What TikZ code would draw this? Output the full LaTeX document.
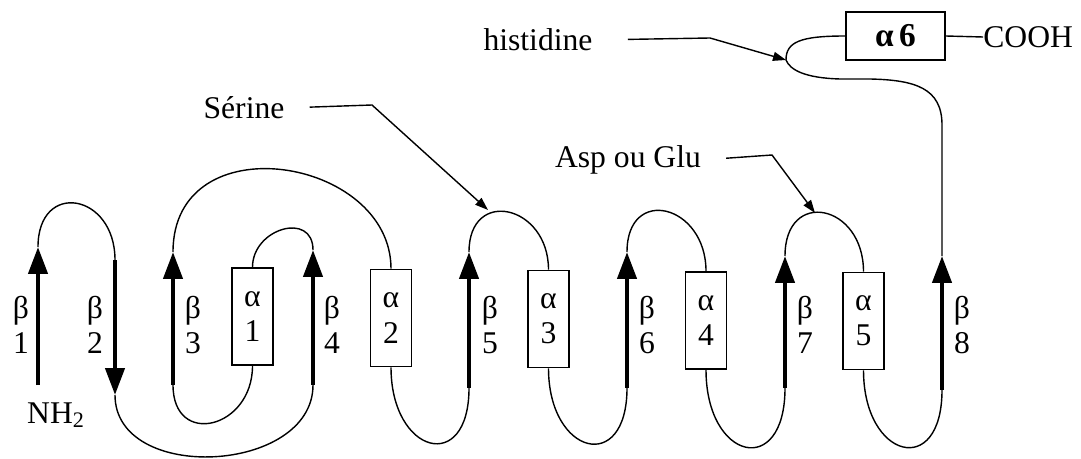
\documentclass[tikz,border=0pt]{standalone}
\usepackage{fontspec}
\setmainfont{Liberation Serif}
\usetikzlibrary{arrows.meta}

\begin{document}
\begin{tikzpicture}[x=0.02cm, y=-0.02cm, font=\fontsize{18}{20}\selectfont,
    strand/.style={line width=2.5pt, -{Triangle[length=0.54cm, width=0.38cm]}},
    helix/.style={draw, line width=0.9pt, minimum width=0.82cm, minimum height=1.94cm, inner sep=0pt, align=center},
    chain/.style={line width=0.8pt},
    pointer/.style={line width=0.8pt, -{Triangle[length=0.26cm, width=0.18cm]}},
    tag/.style={inner sep=0pt, align=center}]
    \useasboundingbox (0,0) rectangle (1081,459);

    %% Strands
    % Ends
    \coordinate (b1s) at (38, 385);  \coordinate (b1e) at (38, 247);
    \coordinate (b2s) at (115, 260); \coordinate (b2e) at (115, 395);
    \coordinate (b3s) at (173, 385); \coordinate (b3e) at (173, 252);
    \coordinate (b4s) at (313, 385); \coordinate (b4e) at (313, 250);
    \coordinate (b5s) at (469, 388); \coordinate (b5e) at (469, 252);
    \coordinate (b6s) at (627, 388); \coordinate (b6e) at (627, 252);
    \coordinate (b7s) at (785, 388); \coordinate (b7e) at (785, 256);
    \coordinate (b8s) at (942, 390); \coordinate (b8e) at (942, 256);

    % Arrows
    \draw[strand] (b1s) -- (b1e);
    \draw[strand] (b2s) -- (b2e);
    \draw[strand] (b3s) -- (b3e);
    \draw[strand] (b4s) -- (b4e);
    \draw[strand] (b5s) -- (b5e);
    \draw[strand] (b6s) -- (b6e);
    \draw[strand] (b7s) -- (b7e);
    \draw[strand] (b8s) -- (b8e);

    % Labels
    \node[tag] (lb1) at (21, 325) {β\\1};
    \node[tag] (lb2) at (95, 325) {β\\2};
    \node[tag] (lb3) at (193, 325) {β\\3};
    \node[tag] (lb4) at (332, 325) {β\\4};
    \node[tag] (lb5) at (490, 325) {β\\5};
    \node[tag] (lb6) at (647, 325) {β\\6};
    \node[tag] (lb7) at (805, 325) {β\\7};
    \node[tag] (lb8) at (962, 325) {β\\8};

    %% Helices
    \node[helix] (a1) at (252.5, 316.5) {α\\1};
    \node[helix] (a2) at (391, 318) {α\\2};
    \node[helix] (a3) at (548.5, 319) {α\\3};
    \node[helix] (a4) at (706, 320.5) {α\\4};
    \node[helix] (a5) at (863.5, 321) {α\\5};
    \node[helix, minimum width=1.98cm, minimum height=0.96cm, font=\fontsize{19}{20}\selectfont\bfseries] (a6) at (895.5, 36) {α\,6};

    %% Loops
    \draw[chain] (b1e) .. controls +(0, -67) and +(0, -67) .. (b2s);
    \draw[chain] (b2e) .. controls +(0, 89) and +(0, 89) .. (b4s);
    \draw[chain] (b3s) .. controls +(0, 63) and +(0, 63) .. (a1.south);
    \draw[chain] (a1.north) .. controls +(0, -39) and +(0, -39) .. (b4e);
    \draw[chain] (b3e) .. controls +(0, -130) and +(0, -112) .. (a2.north);
    \draw[chain] (a2.south) .. controls +(0, 87) and +(0, 87) .. (b5s);
    \draw[chain] (b5e) .. controls +(0, -65) and +(0, -65) .. (a3.north);
    \draw[chain] (a3.south) .. controls +(0, 87) and +(0, 87) .. (b6s);
    \draw[chain] (b6e) .. controls +(0, -67) and +(0, -67) .. (a4.north);
    \draw[chain] (a4.south) .. controls +(0, 91) and +(0, 91) .. (b7s);
    \draw[chain] (b7e) .. controls +(0, -68) and +(0, -68) .. (a5.north);
    \draw[chain] (a5.south) .. controls +(0, 89) and +(0, 89) .. (b8s);

    % C-terminal part
    \coordinate (his) at (786, 60);
    \draw[chain] (b8e) -- (942, 125) .. controls (942, 88) and (915, 80) .. (870, 79)
        -- (840, 79) .. controls (805, 78) and (790, 70) .. (his)
        .. controls (786, 42) and (800, 36) .. (a6.west);
    \node[tag, anchor=west] (cooh) at (983, 37) {COOH};
    \draw[chain] (a6.east) -- (cooh.west);
    \node[tag] (nh2) at (56, 415) {NH\textsubscript{2}};

    %% Residues
    \node[tag] (hislbl) at (538, 40) {histidine};
    \coordinate (hisbend) at (710, 38);
    \draw[pointer, shorten <=0.7cm] (hislbl.east) -- (hisbend) -- (his);

    \node[tag] (serlbl) at (244, 108) {Sérine};
    \coordinate (serbend) at (372, 105);
    \coordinate (ser) at (488, 210);
    \draw[pointer, shorten <=0.5cm] (serlbl.east) -- (serbend) -- (ser);

    \node[tag] (asplbl) at (628, 160) {Asp ou Glu};
    \coordinate (aspbend) at (772, 155);
    \coordinate (asp) at (815, 213);
    \draw[pointer, shorten <=0.5cm] (asplbl.east) -- (aspbend) -- (asp);
\end{tikzpicture}
\end{document}
